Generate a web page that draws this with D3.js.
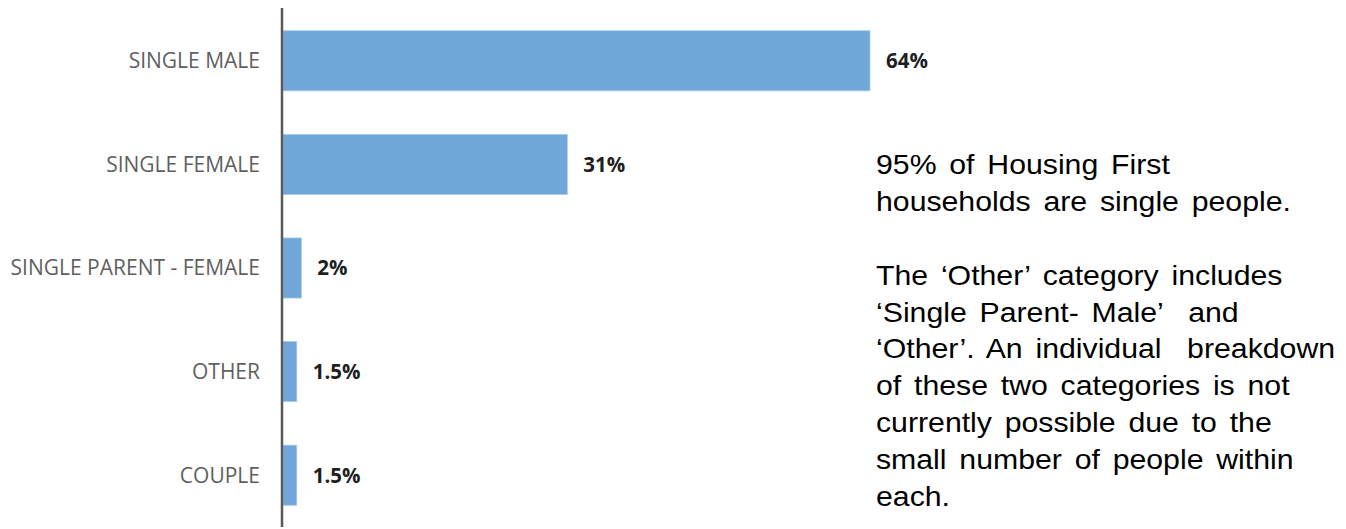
<!DOCTYPE html>
<html>
<head>
<meta charset="utf-8">
<script src="https://cdn.jsdelivr.net/npm/d3@7"></script>
<style>
  html, body { margin: 0; padding: 0; background: #ffffff; }
  svg { display: block; }
</style>
</head>
<body>
<svg id="chart" width="1346" height="529"></svg>
<script>
// Household types of Housing First tenants (share of households, %)
const categories = ["SINGLE MALE", "SINGLE FEMALE", "SINGLE PARENT - FEMALE", "OTHER", "COUPLE"];
const shares = [64, 31, 2, 1.5, 1.5];
const valueLabels = ["64%", "31%", "2%", "1.5%", "1.5%"];

const noteLines = [
  "95% of Housing First",
  "households are single people.",
  "",
  "The \u2018Other\u2019 category includes",
  "\u2018Single Parent- Male\u2019  and",
  "\u2018Other\u2019. An individual  breakdown",
  "of these two categories is not",
  "currently possible due to the",
  "small number of people within",
  "each."
];

const svg = d3.select("#chart");

const x = d3.scaleLinear().domain([0, 64]).range([283, 870]);
const y = d3.scaleBand().domain(categories).range([9, 527]).paddingInner(0.42).paddingOuter(0.21);

const rows = categories.map((c, i) => ({ cat: c, value: shares[i], label: valueLabels[i] }));

// bars
svg.append("g").selectAll("rect")
  .data(rows)
  .join("rect")
  .attr("x", x(0))
  .attr("y", d => y(d.cat))
  .attr("width", d => x(d.value) - x(0))
  .attr("height", y.bandwidth())
  .attr("fill", "#70a6d8")
  .attr("stroke", "#a9c9ea")
  .attr("stroke-width", 0.8);

// category axis
const yAxis = d3.axisLeft(y).tickSize(0).tickPadding(22);
const axisG = svg.append("g")
  .attr("transform", `translate(${x(0) - 1},0)`)
  .call(yAxis);
axisG.select(".domain")
  .attr("d", `M0,8V527`)
  .attr("stroke", "#595959")
  .attr("stroke-width", 2.5);
axisG.selectAll(".tick text")
  .attr("fill", "#5f5f5f")
  .attr("font-family", "'Open Sans', 'DejaVu Sans', sans-serif")
  .attr("font-size", 21)
  .attr("dy", "0.35em");

// value labels
svg.append("g").selectAll("text")
  .data(rows)
  .join("text")
  .attr("x", d => x(d.value) + 16)
  .attr("y", d => y(d.cat) + y.bandwidth() / 2)
  .attr("dy", "0.36em")
  .attr("fill", "#1f1f1f")
  .attr("font-family", "'Open Sans', 'DejaVu Sans', sans-serif")
  .attr("font-weight", "bold")
  .attr("font-size", 20.5)
  .text(d => d.label);

// side note
svg.append("g")
  .attr("transform", "translate(876,0) scale(1.1,1)")
  .selectAll("text")
  .data(noteLines)
  .join("text")
  .attr("x", 0)
  .attr("y", (d, i) => 174.5 + i * 36.8)
  .attr("fill", "#000000")
  .attr("font-family", "'Liberation Sans', Arial, sans-serif")
  .attr("font-size", 27.5)
  .style("word-spacing", "4px")
  .style("white-space", "pre")
  .text(d => d);
</script>
</body>
</html>
